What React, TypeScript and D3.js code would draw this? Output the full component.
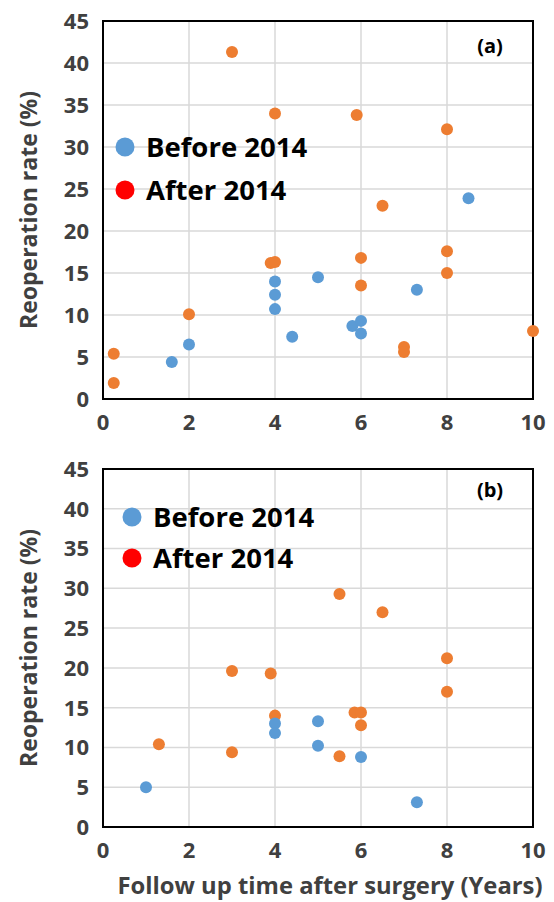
import React from "react";
import * as d3 from "d3";

// panel (a)
const beforeA_x = [8.5, 4, 4, 4, 5, 7.3, 4.4, 5.8, 6, 6, 2, 1.6];
const beforeA_y = [23.9, 14, 12.4, 10.7, 14.5, 13, 7.4, 8.7, 9.3, 7.8, 6.5, 4.4];
const afterA_x = [3, 4, 5.9, 8, 6.5, 3.9, 4, 6, 8, 8, 6, 2, 0.25, 0.25, 7, 7, 10];
const afterA_y = [41.3, 34, 33.8, 32.1, 23, 16.2, 16.3, 16.8, 17.6, 15, 13.5, 10.1, 5.4, 1.9, 6.2, 5.6, 8.1];

// panel (b)
const beforeB_x = [1, 4, 4, 5, 5, 6, 7.3];
const beforeB_y = [5, 13, 11.8, 13.3, 10.2, 8.8, 3.1];
const afterB_x = [5.5, 6.5, 8, 8, 5.85, 6, 6, 5.5, 3, 3.9, 4, 1.3, 3];
const afterB_y = [29.3, 27, 21.2, 17, 14.4, 14.4, 12.8, 8.9, 19.6, 19.3, 14, 10.4, 9.4];

const xTicks = [0, 2, 4, 6, 8, 10];
const yTicks = [0, 5, 10, 15, 20, 25, 30, 35, 40, 45];
const legendLabels = ["Before 2014", "After 2014"];

const BLUE = "#5B9BD5";
const ORANGE = "#ED7D31";
const FONT = "'Open Sans', sans-serif";

type PanelProps = {
  top: number;
  bottom: number;
  tag: string;
  bx: number[];
  by: number[];
  ax: number[];
  ay: number[];
  legendX: number;
  legendY: number[];
  tagY: number;
};

const Panel = (p: PanelProps) => {
  const x = d3.scaleLinear().domain([0, 10]).range([103, 533]);
  const y = d3.scaleLinear().domain([0, 45]).range([p.bottom, p.top]);
  const mid = (p.top + p.bottom) / 2;
  return (
    <g>
      {/* grid */}
      {xTicks.slice(1, -1).map((t) => (
        <line key={"gx" + t} x1={x(t)} x2={x(t)} y1={p.top} y2={p.bottom} stroke="#d9d9d9" strokeWidth={1.5} />
      ))}
      {yTicks.slice(1, -1).map((t) => (
        <line key={"gy" + t} x1={x(0)} x2={x(10)} y1={y(t)} y2={y(t)} stroke="#d9d9d9" strokeWidth={1.5} />
      ))}
      <rect x={x(0)} y={p.top} width={x(10) - x(0)} height={p.bottom - p.top} fill="none" stroke="#000" strokeWidth={2} />

      {/* tick labels */}
      {yTicks.map((t) => (
        <text key={"ty" + t} x={89} y={y(t)} dy="0.36em" textAnchor="end" fontSize={22} fontWeight={700} fill="#404040" fontFamily={FONT}>
          {t}
        </text>
      ))}
      {xTicks.map((t) => (
        <text key={"tx" + t} x={x(t)} y={p.bottom + 31} textAnchor="middle" fontSize={22} fontWeight={700} fill="#404040" fontFamily={FONT}>
          {t}
        </text>
      ))}
      <text transform={`translate(37,${mid}) rotate(-90)`} textAnchor="middle" fontSize={23} fontWeight={700} fill="#404040" fontFamily={FONT}>
        Reoperation rate (%)
      </text>

      {/* points */}
      {p.ax.map((v, i) => (
        <circle key={"a" + i} cx={x(v)} cy={y(p.ay[i])} r={6} fill={ORANGE} />
      ))}
      {p.bx.map((v, i) => (
        <circle key={"b" + i} cx={x(v)} cy={y(p.by[i])} r={6} fill={BLUE} />
      ))}

      {/* legend */}
      {legendLabels.map((l, i) => (
        <g key={l}>
          <circle cx={p.legendX} cy={p.legendY[i]} r={9.5} fill={i === 0 ? BLUE : "#ff0000"} />
          <text x={p.legendX + 21} y={p.legendY[i]} dy="0.36em" fontSize={27.5} fontWeight={700} fill="#000" fontFamily={FONT}>
            {l}
          </text>
        </g>
      ))}
      <text x={490} y={p.tagY} dy="0.36em" textAnchor="middle" fontSize={20} fontWeight={700} fill="#000" fontFamily={FONT}>
        {p.tag}
      </text>
    </g>
  );
};

export default function App() {
  return (
    <svg width={554} height={902} style={{ position: "absolute", left: 0, top: 0, background: "#fff" }}>
      <Panel top={21} bottom={399} tag="(a)" bx={beforeA_x} by={beforeA_y} ax={afterA_x} ay={afterA_y} legendX={125} legendY={[147, 190]} tagY={46} />
      <Panel top={469} bottom={827} tag="(b)" bx={beforeB_x} by={beforeB_y} ax={afterB_x} ay={afterB_y} legendX={132} legendY={[517, 558]} tagY={490} />
      <text x={330} y={894} textAnchor="middle" fontSize={23.8} fontWeight={700} fill="#404040" fontFamily={FONT}>
        Follow up time after surgery (Years)
      </text>
    </svg>
  );
}
